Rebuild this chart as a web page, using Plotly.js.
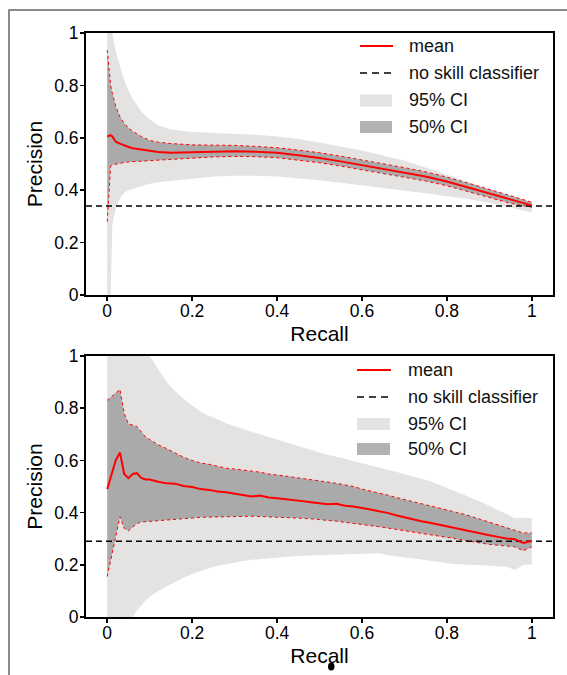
<!DOCTYPE html>
<html>
<head>
<meta charset="utf-8">
<script src="https://cdn.plot.ly/plotly-3.0.1.min.js"></script>
<style>
html,body{margin:0;padding:0;background:#fff;}
#chart{width:567px;height:675px;}
</style>
</head>
<body>
<div id="chart"></div>
<script>
// ---------- data: top panel ----------
const xTop = [0, 0.008, 0.012, 0.02, 0.03, 0.04, 0.05, 0.06, 0.08, 0.1, 0.12, 0.15, 0.2, 0.25, 0.3, 0.35, 0.4, 0.45, 0.5, 0.55, 0.6, 0.65, 0.7, 0.75, 0.8, 0.85, 0.9, 0.95, 1.0];
const meanTop = [0.605, 0.61, 0.605, 0.585, 0.578, 0.57, 0.565, 0.56, 0.555, 0.55, 0.546, 0.543, 0.545, 0.548, 0.549, 0.547, 0.543, 0.533, 0.523, 0.51, 0.496, 0.482, 0.468, 0.452, 0.433, 0.41, 0.388, 0.364, 0.342];
const up50Top = [0.935, 0.80, 0.77, 0.72, 0.68, 0.655, 0.638, 0.625, 0.605, 0.59, 0.583, 0.578, 0.573, 0.572, 0.571, 0.567, 0.562, 0.553, 0.543, 0.53, 0.516, 0.501, 0.486, 0.47, 0.45, 0.427, 0.404, 0.379, 0.354];
const lo50Top = [0.28, 0.49, 0.497, 0.5, 0.503, 0.506, 0.508, 0.509, 0.511, 0.513, 0.516, 0.518, 0.523, 0.527, 0.529, 0.528, 0.524, 0.515, 0.505, 0.492, 0.478, 0.464, 0.451, 0.435, 0.417, 0.395, 0.373, 0.35, 0.335];
const up95Top = [1.0, 1.0, 1.0, 0.93, 0.87, 0.82, 0.78, 0.75, 0.7, 0.67, 0.648, 0.632, 0.622, 0.618, 0.616, 0.612, 0.605, 0.595, 0.582, 0.568, 0.552, 0.532, 0.512, 0.487, 0.46, 0.435, 0.405, 0.375, 0.355];
const lo95Top = [0.0, 0.0, 0.27, 0.33, 0.37, 0.39, 0.4, 0.405, 0.413, 0.425, 0.43, 0.435, 0.445, 0.452, 0.455, 0.455, 0.452, 0.446, 0.438, 0.428, 0.418, 0.41, 0.398, 0.388, 0.377, 0.366, 0.352, 0.335, 0.315];
const noSkillTop = 0.34;

// ---------- data: bottom panel ----------
const xBot = [0,0.01,0.02,0.03,0.04,0.05,0.06,0.07,0.08,0.09,0.10,0.12,0.14,0.16,0.18,0.20,0.22,0.24,0.26,0.28,0.30,0.32,0.34,0.36,0.38,0.40,0.42,0.44,0.46,0.48,0.50,0.52,0.54,0.56,0.58,0.60,0.62,0.64,0.66,0.68,0.70,0.72,0.74,0.76,0.78,0.80,0.82,0.84,0.86,0.88,0.90,0.92,0.94,0.96,0.98,1.00];
const meanBot = [0.49,0.545,0.6,0.63,0.548,0.532,0.548,0.551,0.533,0.527,0.527,0.518,0.512,0.511,0.502,0.498,0.49,0.487,0.481,0.478,0.473,0.468,0.462,0.465,0.458,0.455,0.452,0.449,0.444,0.44,0.437,0.432,0.434,0.426,0.423,0.418,0.412,0.405,0.399,0.39,0.382,0.373,0.367,0.361,0.354,0.346,0.339,0.332,0.326,0.32,0.313,0.307,0.301,0.298,0.284,0.291];
const up50Bot = [0.83,0.845,0.86,0.872,0.78,0.74,0.735,0.73,0.71,0.69,0.68,0.66,0.645,0.628,0.612,0.6,0.59,0.585,0.576,0.57,0.567,0.563,0.56,0.555,0.548,0.545,0.54,0.535,0.531,0.527,0.523,0.517,0.512,0.505,0.5,0.49,0.483,0.474,0.467,0.458,0.45,0.442,0.436,0.428,0.42,0.41,0.402,0.394,0.384,0.374,0.362,0.352,0.342,0.333,0.322,0.322];
const lo50Bot = [0.155,0.23,0.305,0.384,0.34,0.33,0.345,0.358,0.364,0.365,0.368,0.37,0.372,0.375,0.376,0.379,0.382,0.383,0.383,0.385,0.384,0.385,0.386,0.385,0.384,0.384,0.382,0.38,0.378,0.376,0.374,0.37,0.367,0.363,0.36,0.356,0.351,0.346,0.341,0.336,0.331,0.327,0.322,0.316,0.31,0.305,0.3,0.294,0.288,0.282,0.278,0.275,0.272,0.269,0.254,0.269];
const up95Bot = [1,1,1,1,1,1,1,1,1,1,1.0,0.95,0.9,0.865,0.835,0.81,0.787,0.77,0.758,0.742,0.73,0.72,0.71,0.7,0.688,0.678,0.668,0.657,0.647,0.638,0.63,0.622,0.615,0.606,0.598,0.59,0.581,0.574,0.566,0.558,0.548,0.538,0.529,0.521,0.508,0.494,0.481,0.468,0.455,0.442,0.425,0.41,0.395,0.378,0.38,0.378];
const lo95Bot = [0,0,0,0,0,0,0,0.025,0.045,0.062,0.078,0.1,0.118,0.135,0.15,0.165,0.178,0.188,0.196,0.203,0.21,0.215,0.219,0.222,0.226,0.229,0.231,0.233,0.235,0.236,0.238,0.239,0.24,0.241,0.241,0.242,0.243,0.244,0.238,0.232,0.228,0.225,0.22,0.215,0.21,0.206,0.203,0.2,0.199,0.199,0.197,0.195,0.193,0.18,0.2,0.2];
const noSkillBot = 0.29;

// ---------- axes / labels ----------
const xRange = [-0.05, 1.05];
const yRange = [0, 1];
const tickVals = [0, 0.2, 0.4, 0.6, 0.8, 1];
const tickText = ['0', '0.2', '0.4', '0.6', '0.8', '1'];
const legendLabels = ['mean', 'no skill classifier', '95% CI', '50% CI'];
const xTitle = 'Recall';
const yTitle = 'Precision';

// ---------- styles ----------
const W = 567, H = 675;
const FONT = 'Liberation Sans, Arial, Helvetica, sans-serif';
const C95 = '#e5e2e2', C50 = '#aaaaaa', C50leg = '#b4b1b1', RED = '#ff0000';
const px = v => v / W;
const py = v => 1 - v / H;

function panelTraces(x, m, u50, l50, u95, l95, ns, xa, ya) {
  return [
    {x: x, y: l95, xaxis: xa, yaxis: ya, type: 'scatter', mode: 'lines', line: {width: 0, color: C95}, showlegend: false, hoverinfo: 'skip'},
    {x: x, y: u95, xaxis: xa, yaxis: ya, type: 'scatter', mode: 'lines', fill: 'tonexty', fillcolor: C95, line: {width: 0, color: C95}, showlegend: false, hoverinfo: 'skip'},
    {x: x, y: l50, xaxis: xa, yaxis: ya, type: 'scatter', mode: 'lines', line: {width: 1, color: RED, dash: 'dot'}, showlegend: false, hoverinfo: 'skip'},
    {x: x, y: u50, xaxis: xa, yaxis: ya, type: 'scatter', mode: 'lines', fill: 'tonexty', fillcolor: C50, line: {width: 1, color: RED, dash: 'dot'}, showlegend: false, hoverinfo: 'skip'},
    {x: xRange, y: [ns, ns], xaxis: xa, yaxis: ya, type: 'scatter', mode: 'lines', line: {width: 1.5, color: '#000', dash: '6px,4px'}, showlegend: false},
    {x: x, y: m, xaxis: xa, yaxis: ya, type: 'scatter', mode: 'lines', line: {width: 2, color: RED}, showlegend: false}
  ];
}

const data = [].concat(
  panelTraces(xTop, meanTop, up50Top, lo50Top, up95Top, lo95Top, noSkillTop, 'x', 'y'),
  panelTraces(xBot, meanBot, up50Bot, lo50Bot, up95Bot, lo95Bot, noSkillBot, 'x2', 'y2')
);

function axX(anchor) {
  return {
    domain: [px(86), px(553)], anchor: anchor, range: xRange,
    showline: true, mirror: true, linecolor: '#000', linewidth: 2,
    ticks: 'outside', ticklen: 4, tickwidth: 1.5, tickcolor: '#000',
    tickvals: tickVals, ticktext: tickText, showgrid: false, zeroline: false,
    ticklabelstandoff: -5,
    tickfont: {family: FONT, size: 17.5, color: '#000'},
    title: {text: xTitle, font: {family: FONT, size: 21, color: '#000'}, standoff: 6}
  };
}
function axY(dom, anchor) {
  return {
    domain: dom, anchor: anchor, range: yRange,
    showline: true, mirror: true, linecolor: '#000', linewidth: 2,
    ticks: 'outside', ticklen: 4, tickwidth: 1.5, tickcolor: '#000',
    tickvals: tickVals, ticktext: tickText, showgrid: false, zeroline: false,
    ticklabelstandoff: -2,
    tickfont: {family: FONT, size: 17.5, color: '#000'},
    title: {text: yTitle, font: {family: FONT, size: 21, color: '#000'}, standoff: 6}
  };
}

// legend (drawn as shapes + text annotations)
const shapes = [
  {type: 'rect', xref: 'paper', yref: 'paper', x0: px(9), x1: 1.2, y0: -0.2, y1: py(10), line: {color: '#666', width: 1.5}, fillcolor: 'rgba(0,0,0,0)', layer: 'below'},
  {type: 'circle', xref: 'paper', yref: 'paper', x0: px(328), x1: px(334.5), y0: py(670.5), y1: py(662.5), line: {width: 0}, fillcolor: '#000'}
];
const annotations = [];
function addLegend(rows, sx0, sx1, tx) {
  shapes.push({type: 'line', xref: 'paper', yref: 'paper', x0: px(sx0), x1: px(sx1), y0: py(rows[0]), y1: py(rows[0]), line: {color: RED, width: 2}});
  shapes.push({type: 'line', xref: 'paper', yref: 'paper', x0: px(sx0), x1: px(sx1), y0: py(rows[1]), y1: py(rows[1]), line: {color: '#000', width: 1.5, dash: '7px,5px'}});
  shapes.push({type: 'rect', xref: 'paper', yref: 'paper', x0: px(sx0), x1: px(sx1 - 1), y0: py(rows[2] + 6), y1: py(rows[2] - 6), line: {width: 0}, fillcolor: C95});
  shapes.push({type: 'rect', xref: 'paper', yref: 'paper', x0: px(sx0), x1: px(sx1 - 1), y0: py(rows[3] + 6), y1: py(rows[3] - 6), line: {width: 0}, fillcolor: C50leg});
  legendLabels.forEach((t, i) => {
    annotations.push({text: t, xref: 'paper', yref: 'paper', x: px(tx), y: py(rows[i]), xanchor: 'left', yanchor: 'middle', showarrow: false, font: {family: FONT, size: 18, color: '#111'}});
  });
}
addLegend([46, 73, 100.5, 127], 360, 393, 407);
addLegend([370, 397, 424, 449], 357, 391, 406);

const layout = {
  width: W, height: H,
  margin: {l: 0, r: 0, t: 0, b: 0},
  paper_bgcolor: '#fff', plot_bgcolor: '#fff',
  showlegend: false,
  xaxis: axX('y'),
  yaxis: axY([1 - 295 / H, 1 - 33 / H], 'x'),
  xaxis2: axX('y2'),
  yaxis2: axY([1 - 617 / H, 1 - 356 / H], 'x2'),
  shapes: shapes,
  annotations: annotations
};

Plotly.newPlot('chart', data, layout, {staticPlot: true, displayModeBar: false});
</script>
</body>
</html>
